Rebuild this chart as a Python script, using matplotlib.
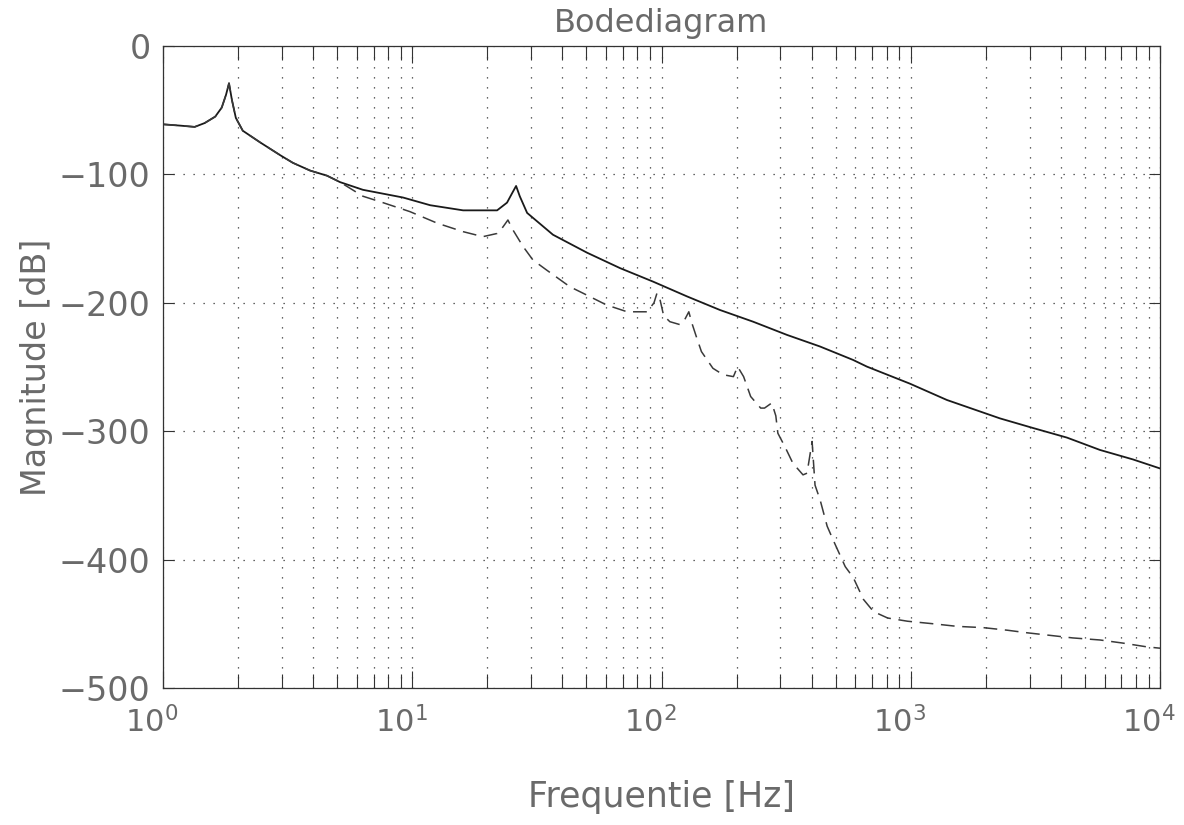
import matplotlib
matplotlib.use("Agg")
import matplotlib.pyplot as plt
import matplotlib.transforms as mtransforms
from matplotlib.ticker import LogLocator, NullFormatter

# ---- data (frequency in Hz, magnitude in dB) ----
freq_solid = [1.0, 1.17, 1.34, 1.47, 1.62, 1.72, 1.79, 1.84, 1.89, 1.96, 2.09,
              2.45, 2.95, 3.32, 3.89, 4.55, 5.13, 6.34, 7.63, 9.18, 11.8, 16.0,
              21.9, 24.0, 25.1, 26.1, 27.0, 28.9, 36.7, 50.3, 68.2, 92.5, 126.5,
              171.6, 233, 318.7, 432, 587, 667, 993, 1397, 2278, 3093, 4236,
              5742, 7794, 10000]
mag_solid = [-61, -62, -63, -60, -55, -48, -38, -29, -42, -56, -66,
             -75, -85, -91, -97, -101, -106, -112, -115, -118, -124, -128,
             -128, -122, -115, -109, -117, -130, -147, -161, -173, -183.5, -195,
             -205.6, -214.7, -225, -234, -244.5, -249.7, -263, -275.7, -290,
             -297.5, -305, -314.6, -322, -329]

freq_dashed = [1.0, 1.17, 1.34, 1.47, 1.62, 1.72, 1.79, 1.84, 1.89, 1.96, 2.09,
               2.45, 2.95, 3.32, 3.89, 4.55, 5.13, 6.34, 7.63, 9.79, 12.6, 16.0,
               19.2, 21.9, 23.1, 24.2, 25.3, 27.8, 30.5, 34.6, 42.9, 48.4, 60.2,
               72.8, 87.6, 93.3, 95.9, 98.5, 102, 108, 118.6, 124, 128.7, 132.5,
               138.3, 144.6, 160.8, 176.6, 194.3, 202, 213.5, 227.9, 250, 259,
               277, 287.5, 293, 312.6, 336.7, 369.6, 383.6, 402, 413, 433, 462,
               489, 546, 588, 646, 709, 808, 971, 1234, 1535, 1958, 2441, 2930,
               3619, 4466, 5742, 7084, 8881, 10000]
mag_dashed = [-61, -62, -63, -60, -55, -48, -38, -29, -42, -56, -66,
              -75, -85, -91, -97, -101, -106, -117, -122, -129, -138, -144.6,
              -148.5, -146, -141, -135.5, -143, -156, -166.7, -174.5, -187.5,
              -192.5, -201.7, -207, -207, -200, -192.5, -197, -210, -214.7,
              -217, -213, -207, -216, -227, -238, -251, -256, -257.5, -249.7,
              -257.5, -273, -282, -282, -278, -288, -301.6, -312, -325, -334,
              -332.7, -308, -342, -353.6, -374, -385, -405.5, -414, -431,
              -440.5, -445.5, -448, -450, -452, -453, -455, -457, -459, -461,
              -462.6, -465, -468, -469]

y_ticks = [0, -100, -200, -300, -400, -500]

title_text = "Bodediagram"
xlabel_text = "Frequentie [Hz]"
ylabel_text = "Magnitude [dB]"

# ---- figure ----
plt.rcParams['font.family'] = ['DejaVu Sans']
text_color = '#6a6a6a'

fig = plt.figure(figsize=(11.84, 8.25), dpi=100)
ax = fig.add_axes([163/1184, 1 - 688/825, (1160 - 163)/1184, (688 - 46)/825])

ax.plot(freq_solid, mag_solid, color='#1a1a1a', lw=1.3)
ax.plot(freq_dashed, mag_dashed, color='#3a3a3a', lw=1.1, dashes=(9, 5))

ax.set_xscale('log')
ax.set_xlim(1, 1e4)
ax.set_ylim(-500, 0)
ax.set_yticks(y_ticks)

ax.xaxis.set_major_locator(LogLocator(base=10, numticks=10))
ax.xaxis.set_minor_locator(LogLocator(base=10, subs=range(2, 10), numticks=50))
ax.xaxis.set_minor_formatter(NullFormatter())

grid_kw = dict(color='#333333', linewidth=0.9, linestyle=(0, (1, 7)))
ax.grid(True, which='major', axis='both', **grid_kw)
ax.grid(True, which='minor', axis='x', **grid_kw)

ax.tick_params(axis='both', which='both', direction='in', top=True, right=True,
               colors='#333333', labelcolor=text_color)
ax.tick_params(axis='x', which='major', length=12, width=0.8, labelsize=22, pad=13)
ax.tick_params(axis='x', which='minor', length=10, width=0.8)
ax.tick_params(axis='y', which='major', length=8, width=0.8, labelsize=24, pad=9)

for sp in ax.spines.values():
    sp.set_color('#333333')
    sp.set_linewidth(0.9)

# shift x tick labels slightly left (as in reference)
offset = mtransforms.ScaledTranslation(-11/100, 0, fig.dpi_scale_trans)
for lbl in ax.get_xticklabels():
    lbl.set_transform(lbl.get_transform() + offset)

ax.set_title(title_text, fontsize=23, color=text_color, pad=10)
ax.set_xlabel(xlabel_text, fontsize=25, color=text_color, labelpad=30)
ax.set_ylabel(ylabel_text, fontsize=24, color=text_color, labelpad=4)

fig.savefig("out.png", dpi=100, facecolor='white')
